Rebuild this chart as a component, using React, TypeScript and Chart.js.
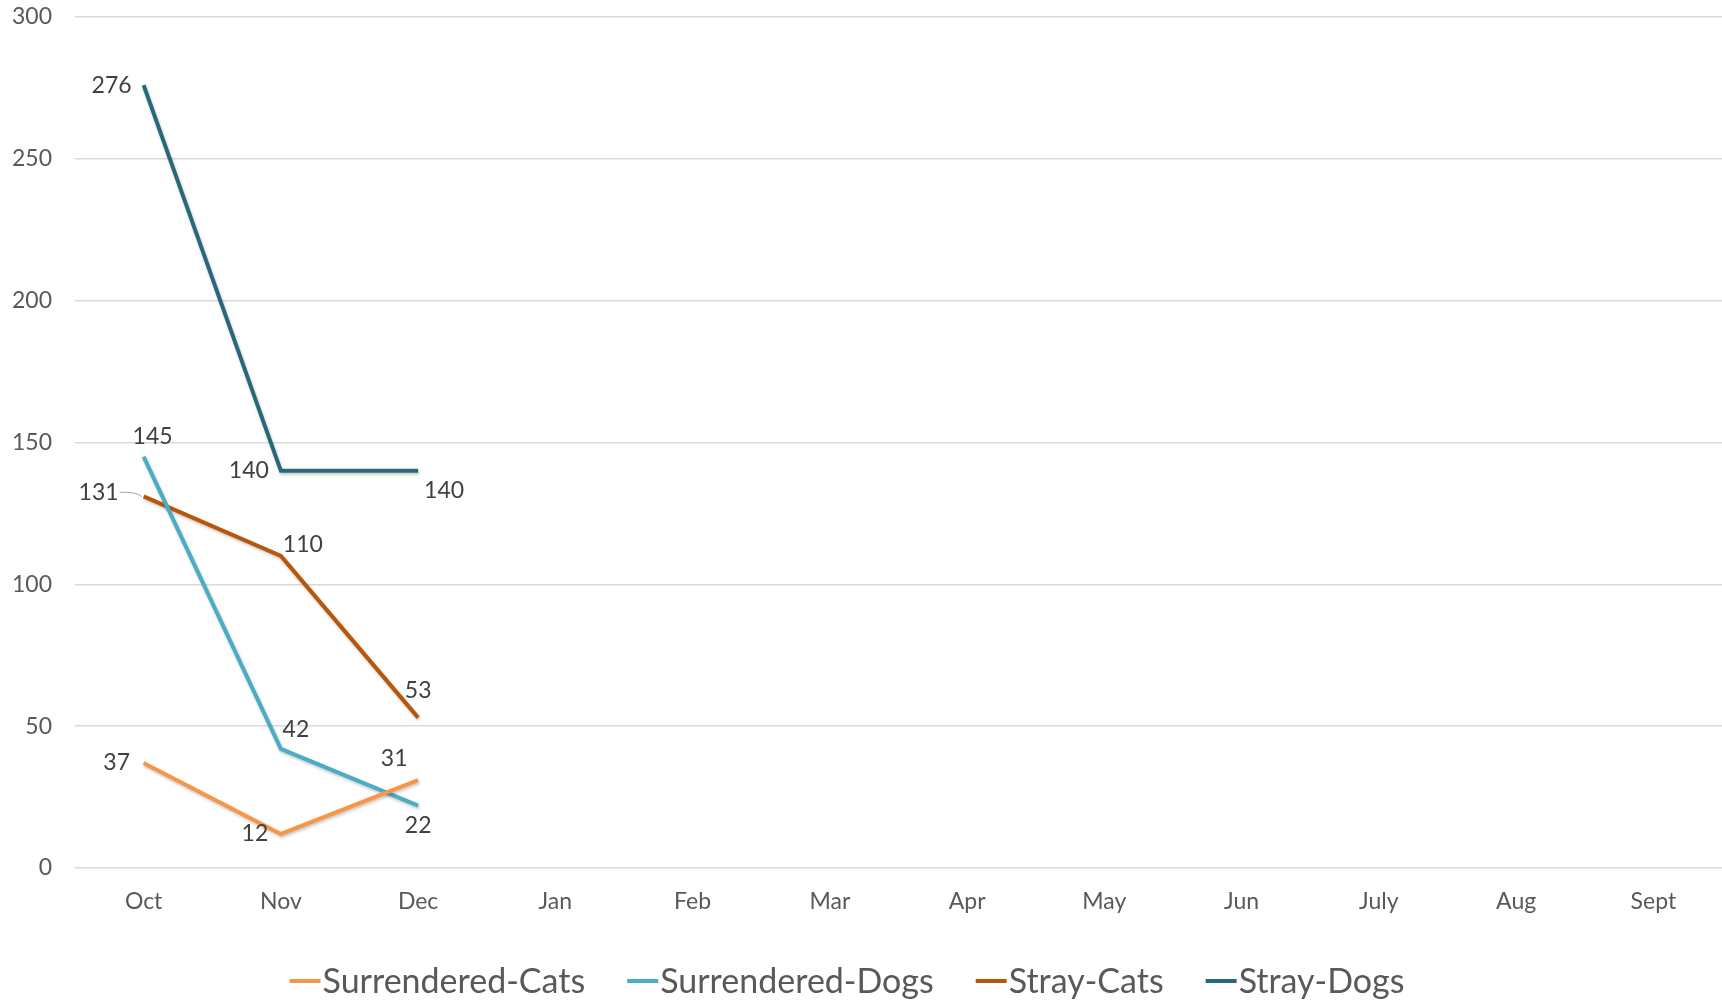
import React, { useEffect, useRef } from "react";
import { Chart, registerables } from "chart.js";

Chart.register(...registerables);

const months = ["Oct", "Nov", "Dec", "Jan", "Feb", "Mar", "Apr", "May", "Jun", "July", "Aug", "Sept"];
const surrenderedCats = [37, 12, 31];
const surrenderedDogs = [145, 42, 22];
const strayCats = [131, 110, 53];
const strayDogs = [276, 140, 140];
const yTicks = [0, 50, 100, 150, 200, 250, 300];

// label placement offsets (style only)
const labelOffsets: Record<string, [number, number][]> = {
  "Surrendered-Cats": [[-27, 0], [-26, 0], [-24, -21]],
  "Surrendered-Dogs": [[9, -20], [15, -19], [0, 20]],
  "Stray-Cats": [[-45, -4], [22, -11], [0, -27]],
  "Stray-Dogs": [[-32, 0], [-32, 0], [26, 20]],
};

const FONT = "Lato, 'Open Sans', sans-serif";

const shadowPlugin = {
  id: "lineShadow",
  beforeDatasetsDraw(chart: any) {
    const ctx = chart.ctx;
    ctx.save();
    ctx.shadowColor = "rgba(0,0,0,0.22)";
    ctx.shadowBlur = 3;
    ctx.shadowOffsetX = 1;
    ctx.shadowOffsetY = 2;
  },
  afterDatasetsDraw(chart: any) {
    chart.ctx.restore();
  },
};

const labelPlugin = {
  id: "dataLabels",
  afterDatasetsDraw(chart: any) {
    const ctx = chart.ctx;
    ctx.save();
    ctx.font = `23px ${FONT}`;
    ctx.fillStyle = "#404040";
    ctx.textAlign = "center";
    ctx.textBaseline = "middle";
    chart.data.datasets.forEach((ds: any, di: number) => {
      const meta = chart.getDatasetMeta(di);
      const offs = labelOffsets[ds.label] || [];
      meta.data.forEach((pt: any, i: number) => {
        const v = ds.data[i];
        if (v === null || v === undefined) return;
        const [dx, dy] = offs[i] || [0, -20];
        const lx = pt.x + dx;
        const ly = pt.y + dy;
        if (ds.label === "Stray-Cats" && i === 0) {
          ctx.save();
          ctx.strokeStyle = "#A6A6A6";
          ctx.lineWidth = 1;
          ctx.beginPath();
          ctx.moveTo(lx + 21, ly);
          ctx.quadraticCurveTo(pt.x - 8, ly - 1, pt.x - 2, pt.y);
          ctx.stroke();
          ctx.restore();
        }
        ctx.fillText(String(v), lx, ly);
      });
    });
    ctx.restore();
  },
};

const legendPlugin = {
  id: "customLegend",
  afterDraw(chart: any) {
    const ctx = chart.ctx;
    ctx.save();
    ctx.font = `34px ${FONT}`;
    ctx.textBaseline = "middle";
    ctx.textAlign = "left";
    const markerW = 31;
    const markerGap = 2;
    const itemGap = 42;
    const items = chart.data.datasets.map((ds: any) => ({
      label: ds.label,
      color: ds.borderColor,
      w: markerW + markerGap + ctx.measureText(ds.label).width,
    }));
    const total = items.reduce((s: number, it: any) => s + it.w, 0) + itemGap * (items.length - 1);
    let x = 847 - total / 2;
    const y = 981;
    items.forEach((it: any) => {
      ctx.fillStyle = it.color;
      ctx.fillRect(x, y - 2, markerW, 4);
      ctx.fillStyle = "#595959";
      ctx.fillText(it.label, x + markerW + markerGap, y + 1);
      x += it.w + itemGap;
    });
    ctx.restore();
  },
};

export default function App() {
  const ref = useRef<HTMLCanvasElement | null>(null);

  useEffect(() => {
    document.body.style.margin = "0";
    const canvas = ref.current;
    if (!canvas) return;
    const mk = (label: string, data: number[], color: string) => ({
      label,
      data,
      borderColor: color,
      backgroundColor: color,
      borderWidth: 4,
      pointRadius: 0,
      pointHoverRadius: 0,
      tension: 0,
      fill: false,
    });
    const chart = new Chart(canvas, {
      type: "line",
      data: {
        labels: months,
        datasets: [
          mk("Surrendered-Cats", surrenderedCats, "#F79646"),
          mk("Surrendered-Dogs", surrenderedDogs, "#4BACC6"),
          mk("Stray-Cats", strayCats, "#B8560A"),
          mk("Stray-Dogs", strayDogs, "#27697A"),
        ],
      },
      options: {
        animation: false,
        responsive: false,
        maintainAspectRatio: false,
        layout: { autoPadding: false, padding: { top: 17, right: 0, bottom: 0, left: 0 } },
        plugins: {
          legend: { display: false },
          tooltip: { enabled: false },
          title: { display: false },
        },
        scales: {
          x: {
            offset: true,
            grid: { display: false, drawTicks: false },
            border: { display: false },
            ticks: {
              color: "#595959",
              font: { family: FONT, size: 23 },
              padding: 20,
              maxRotation: 0,
              autoSkip: false,
            },
            afterFit(scale: any) {
              scale.height = 135;
              scale.paddingLeft = 0;
              scale.paddingRight = 0;
            },
          },
          y: {
            min: 0,
            max: 300,
            afterBuildTicks(scale: any) {
              scale.ticks = yTicks.map((v) => ({ value: v }));
            },
            grid: { color: "#D9D9D9", lineWidth: 1.5, drawTicks: false },
            border: { display: false },
            ticks: {
              color: "#595959",
              font: { family: FONT, size: 23 },
              padding: 23,
            },
            afterFit(scale: any) {
              scale.width = 75;
              scale.paddingTop = 0;
              scale.paddingBottom = 0;
            },
          },
        },
      },
      plugins: [shadowPlugin, labelPlugin, legendPlugin],
    });
    return () => chart.destroy();
  }, []);

  return (
    <div style={{ position: "absolute", left: 0, top: 0, width: 1722, height: 1003, background: "#fff" }}>
      <canvas ref={ref} width={1722} height={1003} style={{ display: "block" }} />
    </div>
  );
}
